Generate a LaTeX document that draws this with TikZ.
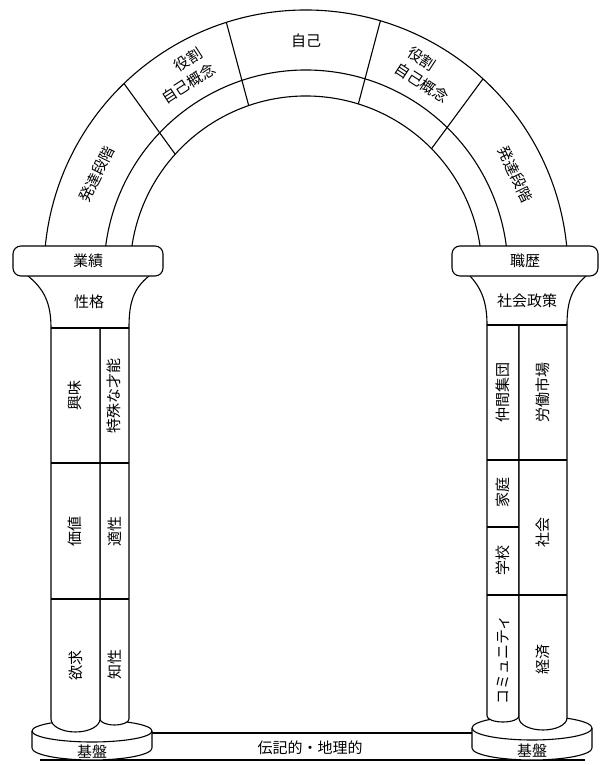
\documentclass[tikz,border=0pt]{standalone}
\usepackage{fontspec}
\newfontfamily\jp{Noto Sans CJK JP}
\usetikzlibrary{calc}
\begin{document}
\begin{tikzpicture}[x=1pt,y=1pt,line width=1.1pt,line join=round,
  lbl/.style={font=\jp\fontsize{15}{16}\selectfont,inner sep=0pt,align=center},
  vlbl/.style={lbl,rotate=90},
  wfill/.style={fill=white}]
\useasboundingbox (0,0) rectangle (603,765);
\coordinate (C) at (306,493);

% ---- ground bar ----
\draw (40,5) -- (585,5);
\draw (152,32) -- (472,32);
\node[lbl] (ground) at (310,17) {伝記的・地理的};

% ---- discs ----
\draw[wfill] (32,34) -- (32,17) arc[start angle=180,end angle=360,x radius=60,y radius=12]
  -- (152,34) arc[start angle=0,end angle=180,x radius=60,y radius=11] -- cycle;
\draw (152,34) arc[start angle=0,end angle=-180,x radius=60,y radius=11];
\node[lbl] (baseL) at (92,13) {基盤};

\draw[wfill] (472,37) -- (472,17) arc[start angle=180,end angle=360,x radius=60,y radius=12]
  -- (592,37) arc[start angle=0,end angle=180,x radius=60,y radius=12] -- cycle;
\draw (592,37) arc[start angle=0,end angle=-180,x radius=60,y radius=12];
\node[lbl] (baseR) at (532,14) {基盤};

% ---- left column ----
\draw[wfill] (129,437) -- (129,46) arc[start angle=0,end angle=-180,x radius=14.5,y radius=6] -- (100,437);
\draw[wfill] (51,437) -- (51,46) arc[start angle=180,end angle=360,x radius=24.5,y radius=13] -- (100,437);
\draw (51,437) -- (129,437);
\draw (51,302) -- (129,302);
\draw (51,166) -- (129,166);
\draw (28,489) .. controls (44,476) and (51,462) .. (51,437);
\draw (149,489) .. controls (133,476) and (129,462) .. (129,437);
\draw[wfill,rounded corners=8] (13,489) rectangle (163,519);

\node[lbl] (gyoseki) at (88,504) {業績};
\node[lbl] (seikaku) at (89,463) {性格};
\node[vlbl] (kyomi) at (75,369) {興味};
\node[vlbl] (tokushu) at (114,369) {特殊な才能};
\node[vlbl] (kachi) at (75,233) {価値};
\node[vlbl] (tekisei) at (115,233) {適性};
\node[vlbl] (yokkyu) at (76,99) {欲求};
\node[vlbl] (chisei) at (115,100) {知性};

% ---- right column ----
\draw[wfill] (487,440) -- (487,49) arc[start angle=180,end angle=360,x radius=16,y radius=6] -- (519,440);
\draw[wfill] (567,440) -- (567,47) arc[start angle=0,end angle=-180,x radius=24,y radius=12] -- (519,440);
\draw (487,440) -- (567,440);
\draw (487,305) -- (567,305);
\draw (487,238) -- (519,238);
\draw (487,170) -- (567,170);
\draw (470,489) .. controls (482,476) and (487,462) .. (487,440);
\draw (586,489) .. controls (571,476) and (567,462) .. (567,440);
\draw[wfill,rounded corners=8] (452,489) rectangle (598,519);

\node[lbl] (shokureki) at (525,504) {職歴};
\node[lbl] (shakaiseisaku) at (527,464) {社会政策};
\node[vlbl] (nakama) at (503,372) {仲間集団};
\node[vlbl] (rodo) at (543,372) {労働市場};
\node[vlbl] (katei) at (503,272) {家庭};
\node[vlbl] (gakko) at (503,204) {学校};
\node[vlbl] (community) at (503,105) {コミュニティ};
\node[vlbl] (shakai) at (543,232) {社会};
\node[vlbl] (keizai) at (543,105) {経済};

% ---- arch ----
\draw (C) ++(174.31:262) arc[start angle=174.31,end angle=5.69,radius=262];
\draw (C) ++(172.6:202) arc[start angle=172.6,end angle=7.4,radius=202];
\draw (C) ++(171.5:176) arc[start angle=171.5,end angle=8.5,radius=176];
\draw ($(C)+(134:262)$) -- ($(C)+(138:176)$);
\draw ($(C)+(107.7:262)$) -- ($(C)+(109:176)$);
\draw ($(C)+(73.5:262)$) -- ($(C)+(72.7:176)$);
\draw ($(C)+(47.5:262)$) -- ($(C)+(44.5:176)$);

\node[lbl] (jiko) at ($(C)+(90:231)$) {自己};
\node[lbl,rotate=33] (yakuwariLa) at ($(C)+(119:243)$) {役割};
\node[lbl,rotate=33] (yakuwariLb) at ($(C)+(122:222)$) {自己概念};
\node[lbl,rotate=-33] (yakuwariRa) at ($(C)+(61.5:243)$) {役割};
\node[lbl,rotate=-33] (yakuwariRb) at ($(C)+(58.5:222)$) {自己概念};
\node[lbl,rotate=64] (hattatsuL) at ($(C)+(155:231)$) {発達段階};
\node[lbl,rotate=-64] (hattatsuR) at ($(C)+(25:231)$) {発達段階};
\end{tikzpicture}
\end{document}
